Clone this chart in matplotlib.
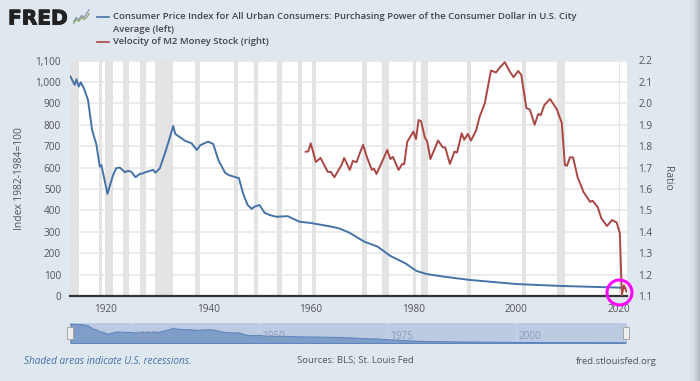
import matplotlib
matplotlib.use("Agg")
import matplotlib.pyplot as plt
import matplotlib.patheffects as pe
from matplotlib.colors import LinearSegmentedColormap
import numpy as np

W, H = 700, 381
BG = "#dfe7ef"
TXT = "#555555"
plt.rcParams['font.family'] = ['Open Sans', 'DejaVu Sans']

cpi_years = [1913.2, 1913.6, 1914.0, 1914.35, 1914.8, 1915.2, 1915.8, 1916.6, 1917.4, 1918.25, 1918.9, 1919.2,
             1919.9, 1920.4, 1920.8, 1921.5, 1922.1, 1922.8, 1923.8, 1924.4, 1925.07, 1925.85, 1926.3, 1926.7,
             1927.2, 1928.0, 1929.3, 1929.75, 1930.6, 1931.6, 1932.3, 1933.2, 1933.6, 1935.5, 1936.8, 1937.8,
             1938.5, 1940.0, 1941.0, 1942.0, 1943.3, 1944.0, 1946.0, 1946.8, 1947.7, 1948.5, 1949.0, 1950.0,
             1951.0, 1952.0, 1953.3, 1955.5, 1957.8, 1960.0, 1964.0, 1965.5, 1967.5, 1970.4, 1973.0, 1975.5,
             1978.4, 1980.6, 1982.5, 1986.0, 1991.0, 2000.0, 2008.6, 2020.3, 2021.3]
cpi_values = [1025, 1005, 986, 1012, 978, 998, 970, 916, 776, 706, 604, 612,
              534, 477, 511, 565, 597, 600, 578, 585, 580, 555, 563, 570,
              572, 580, 589, 576, 597, 667, 721, 794, 757, 725, 713, 682,
              705, 721, 710, 635, 576, 565, 550, 480, 425, 407, 417, 425,
              389, 378, 370, 373, 347, 341, 324, 316, 296, 254, 231, 187,
              153, 117, 103, 90, 75, 56, 47, 39, 37]

vel_years = [1959.0, 1959.5, 1960.0, 1961.0, 1961.9, 1963.3, 1963.9, 1964.6, 1966.0, 1966.5, 1967.6, 1968.2,
             1968.9, 1969.6, 1970.2, 1970.9, 1971.9, 1972.3, 1972.8, 1973.9, 1974.9, 1975.5, 1976.0, 1977.1,
             1977.8, 1978.2, 1978.8, 1980.0, 1980.5, 1981.0, 1981.5, 1982.2, 1982.7, 1983.3, 1984.8, 1985.7,
             1986.2, 1987.1, 1988.0, 1988.5, 1989.4, 1989.9, 1990.6, 1991.2, 1992.2, 1992.9, 1993.9, 1995.1,
             1996.1, 1996.8, 1997.8, 1998.7, 1999.5, 2000.4, 2001.0, 2002.0, 2002.7, 2003.6, 2004.3, 2004.8,
             2005.5, 2006.6, 2007.9, 2008.9, 2009.5, 2009.9, 2010.5, 2011.1, 2012.0, 2012.8, 2013.1, 2014.4,
             2014.9, 2015.9, 2016.6, 2017.7, 2018.7, 2019.6, 2020.2, 2020.6, 2021.0, 2021.5]
vel_values = [1.774, 1.775, 1.813, 1.726, 1.745, 1.68, 1.68, 1.655, 1.712, 1.745, 1.689, 1.731,
              1.725, 1.77, 1.806, 1.751, 1.689, 1.695, 1.67, 1.728, 1.782, 1.74, 1.75, 1.689,
              1.716, 1.716, 1.821, 1.868, 1.833, 1.922, 1.915, 1.842, 1.82, 1.74, 1.826, 1.795,
              1.793, 1.717, 1.775, 1.77, 1.86, 1.83, 1.857, 1.826, 1.873, 1.938, 2.0, 2.153,
              2.144, 2.167, 2.192, 2.151, 2.122, 2.151, 2.133, 1.978, 1.97, 1.9, 1.95, 1.945,
              1.992, 2.02, 1.974, 1.908, 1.712, 1.708, 1.748, 1.747, 1.653, 1.606, 1.587, 1.54,
              1.545, 1.515, 1.463, 1.427, 1.455, 1.443, 1.393, 1.104, 1.15, 1.12]

rec_start = [1913.0, 1918.67, 1920.0, 1923.4, 1926.8, 1929.6, 1937.4, 1945.1, 1948.9, 1953.5, 1957.6, 1960.3,
             1969.9, 1973.9, 1980.0, 1981.5, 1990.5, 2001.2, 2007.9, 2020.1]
rec_end = [1914.9, 1919.25, 1921.5, 1924.5, 1927.9, 1933.2, 1938.5, 1945.8, 1949.8, 1954.4, 1958.3, 1961.1,
           1970.9, 1975.2, 1980.5, 1982.9, 1991.2, 2001.9, 2009.5, 2020.3]

x_ticks = [1920, 1940, 1960, 1980, 2000, 2020]
left_ticks = [0, 100, 200, 300, 400, 500, 600, 700, 800, 900, 1000, 1100]
right_ticks = [1.1, 1.2, 1.3, 1.4, 1.5, 1.6, 1.7, 1.8, 1.9, 2.0, 2.1, 2.2]
nav_ticks = [1925, 1950, 1975, 2000]
logo_a = [1, 3, 2, 4, 3, 5, 7]
logo_b = [0, 2, 1, 3, 2, 3, 5]


def box(x0, y0, x1, y1):
    return [x0 / W, 1 - y1 / H, (x1 - x0) / W, (y1 - y0) / H]


fig = plt.figure(figsize=(7, 3.81), dpi=100, facecolor=BG)

# grey strip on the right edge of the page
strip = fig.add_axes(box(688, 0, 700, 381))
shade = LinearSegmentedColormap.from_list("shade", [BG, "#d6dde4", "#b4bbc3"])
strip.imshow(np.linspace(0, 1, 12).reshape(1, -1), aspect="auto", cmap=shade)
strip.axis("off")

ax = fig.add_axes(box(69.5, 60.5, 627, 296))
ax.set_facecolor("white")
for s, e in zip(rec_start, rec_end):
    ax.axvspan(s, e, color="#e3e3e3", lw=0, zorder=1)
ax.set_xlim(1913, 2021.6)
ax.set_ylim(0, 1100)
ax.set_yticks(left_ticks)
ax.set_yticklabels([f"{v:,}" for v in left_ticks])
ax.set_xticks(x_ticks)
ax.grid(axis="y", color="#e9e9e9", lw=1.2, zorder=2)
ax.set_axisbelow(True)
ax.tick_params(length=0, labelsize=7.2, labelcolor=TXT)
ax.tick_params(axis="x", pad=6)
ax.tick_params(axis="y", pad=6)
for s in ax.spines.values():
    s.set_visible(False)
ax.spines["bottom"].set_visible(True)
ax.spines["bottom"].set_color("#333333")
ax.spines["bottom"].set_linewidth(1.6)
ax.spines["bottom"].set_zorder(6)
blue, = ax.plot(cpi_years, cpi_values, color="#4572a7", lw=1.4, zorder=4)
ax.set_ylabel("Index 1982-1984=100", fontsize=7.4, color=TXT, labelpad=7.5)

ax2 = ax.twinx()
ax2.set_ylim(1.1, 2.2)
ax2.set_yticks(right_ticks)
ax2.set_yticklabels([f"{v:.1f}" for v in right_ticks])
ax2.tick_params(length=0, labelsize=7.2, labelcolor=TXT, pad=8)
for s in ax2.spines.values():
    s.set_visible(False)
red, = ax2.plot(vel_years, vel_values, color="#aa4643", lw=1.4, zorder=4)
ax2.set_ylabel("Ratio", fontsize=7.4, color=TXT, rotation=-90, labelpad=14.5)

# magenta ring around the latest values
ax2.plot([2020.0], [1.119], "o", ms=18, mfc="none", mec="#ff00ff", mew=2.2, clip_on=False, zorder=8)

# range navigator
nav = fig.add_axes(box(69.5, 323, 627, 343))
nav.set_facecolor("#bccbe2")
nav.fill_between(cpi_years, cpi_values, 0, color="#7f9dc9", lw=0.8, edgecolor="#5f86bd")
nav.set_xlim(1913, 2021.6)
nav.set_ylim(0, 1050)
nav.set_xticks([])
nav.set_yticks([])
for s in nav.spines.values():
    s.set_visible(False)
for t in nav_ticks:
    nav.axvline(t, color="#c9d5e8", lw=0.7, zorder=0.5)
    nav.annotate(str(t), (t, 0), xytext=(2, 1), textcoords="offset points", fontsize=7.2, color="#8e9ebb", ha="left", va="bottom")
for hx in [69.7, 626]:
    fig.add_artist(plt.Rectangle(((hx - 3) / W, 1 - 339 / H), 6 / W, 12 / H, transform=fig.transFigure,
                                 fc="#eeeeee", ec="#a5a5a5", lw=0.7, zorder=9))

# logo
fig.text(8 / W, 1 - 24.5 / H, "FRED", fontsize=14.5, fontweight="bold", family="DejaVu Sans", color="#222222", va="baseline",
         path_effects=[pe.withStroke(linewidth=0.7, foreground="#222222")])
logo = fig.add_axes(box(73, 9, 90, 24))
logo.plot(logo_a, color="#7f8fa8", lw=0.8)
logo.plot(logo_b, color="#8aa05a", lw=0.8)
logo.axis("off")

# legend
LEG = "#444444"
LEG_SIZE = 6.8
fig.add_artist(plt.Line2D([97 / W, 109 / W], [1 - 16.5 / H, 1 - 16.5 / H], color="#4572a7", lw=1.2))
fig.add_artist(plt.Line2D([97 / W, 109 / W], [1 - 41.5 / H, 1 - 41.5 / H], color="#aa4643", lw=1.2))
fig.text(113 / W, 1 - 16.5 / H, "Consumer Price Index for All Urban Consumers: Purchasing Power of the Consumer Dollar in U.S. City",
         fontsize=LEG_SIZE, color=LEG, va="center", fontweight="semibold")
fig.text(113 / W, 1 - 29.5 / H, "Average (left)", fontsize=LEG_SIZE, color=LEG, va="center", fontweight="semibold")
fig.text(113 / W, 1 - 41.5 / H, "Velocity of M2 Money Stock (right)", fontsize=LEG_SIZE, color=LEG, va="center", fontweight="semibold")

# footer
fig.text(24 / W, 1 - 361 / H, "Shaded areas indicate U.S. recessions.", fontsize=7.2, style="italic", color="#4572a7", va="center")
fig.text(297 / W, 1 - 361 / H, "Sources: BLS; St. Louis Fed", fontsize=6.8, color=TXT, va="center")
fig.text(657 / W, 1 - 361 / H, "fred.stlouisfed.org", fontsize=6.8, color=TXT, va="center", ha="right")

fig.savefig("out.png", dpi=100, facecolor=BG)
